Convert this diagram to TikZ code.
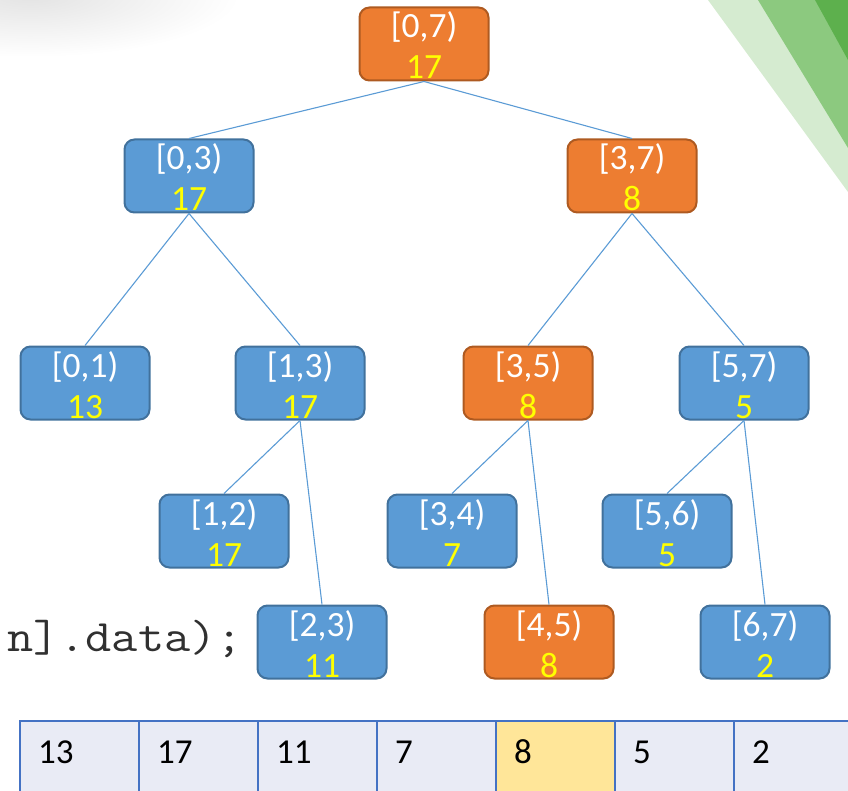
\documentclass[tikz,border=0pt]{standalone}
\usepackage{fontspec}
\setmainfont{Carlito}
\usetikzlibrary{calc}
\definecolor{nblue}{HTML}{5B9BD5}
\definecolor{nblueD}{HTML}{41719C}
\definecolor{norange}{HTML}{ED7D31}
\definecolor{norangeD}{HTML}{AE5A21}
\definecolor{nyellow}{HTML}{FFFF00}
\definecolor{cellfill}{HTML}{E9EBF5}
\definecolor{cellline}{HTML}{4472C4}
\definecolor{cellhi}{HTML}{FFE699}
\definecolor{gLight}{HTML}{D5EBD0}
\definecolor{gMid}{HTML}{8CC97F}
\definecolor{gDark}{HTML}{5DB04D}
\definecolor{codetext}{HTML}{303030}
\tikzset{
  treebox/.style={rounded corners=10pt, line width=2pt, minimum width=129pt, minimum height=73pt, inner sep=0pt},
  bluebox/.style={treebox, fill=nblue, draw=nblueD},
  orangebox/.style={treebox, fill=norange, draw=norangeD},
  lbltext/.style={text=white, font=\fontsize{35.5}{40}\selectfont, inner sep=0pt, anchor=base},
  numtext/.style={text=nyellow, font=\fontsize{35.5}{40}\selectfont, inner sep=0pt, anchor=base},
  edge/.style={draw=nblue, line width=1.1pt},
  arrcell/.style={draw=cellline, line width=2pt, fill=cellfill, minimum width=119pt, minimum height=90pt, inner sep=0pt, anchor=north west},
  arrtext/.style={text=black, font=\fontsize{35}{40}\selectfont, inner sep=0pt, anchor=base west}
}
\newcommand{\tnode}[6]{%
  \node[#4] (#1) at (#2,#3+37) {};
  \node[lbltext] (#1-l) at (#2,#3+31) {#5};
  \node[numtext] (#1-n) at (#2,#3+72) {#6};
}
\begin{document}
\begin{tikzpicture}[x=1pt,y=-1pt]
\useasboundingbox (0,0) rectangle (848,791);
\begin{scope}
  \clip (0,0) rectangle (848,791);
  % shadow top-left
  \shade[inner color=black!11, outer color=white] (30,-5) ellipse [x radius=210pt, y radius=62pt];
  % green stripes
  \fill[gLight] (708,0) -- (848,192) -- (848,0) -- cycle;
  \fill[gMid] (758,0) -- (848,148) -- (848,0) -- cycle;
  \fill[gDark] (815,0) -- (848,60) -- (848,0) -- cycle;
  % code text
  \node[anchor=base east, inner sep=0pt, text=codetext, font=\ttfamily\fontsize{45}{50}\selectfont] (code) at (243,651) {\scalebox{1.13}[1]{n].data);}};
  % array
  \node[arrcell] (c1) at (19,720) {};
  \node[arrcell] (c2) at (138,720) {};
  \node[arrcell] (c3) at (257,720) {};
  \node[arrcell] (c4) at (376,720) {};
  \node[arrcell, fill=cellhi] (c5) at (495,720) {};
  \node[arrcell] (c6) at (614,720) {};
  \node[arrcell] (c7) at (733,720) {};
  \node[arrtext] (t1) at (38,763) {13};
  \node[arrtext] (t2) at (157,763) {17};
  \node[arrtext] (t3) at (276,763) {11};
  \node[arrtext] (t4) at (395,763) {7};
  \node[arrtext] (t5) at (514,763) {8};
  \node[arrtext] (t6) at (633,763) {5};
  \node[arrtext] (t7) at (752,763) {2};
\end{scope}
% tree
\tnode{a}{424}{7}{orangebox}{[0,7)}{17}
\tnode{b}{189}{139}{bluebox}{[0,3)}{17}
\tnode{c}{632}{139}{orangebox}{[3,7)}{8}
\tnode{d}{85}{346}{bluebox}{[0,1)}{13}
\tnode{e}{300}{346}{bluebox}{[1,3)}{17}
\tnode{f}{528}{346}{orangebox}{[3,5)}{8}
\tnode{g}{744}{346}{bluebox}{[5,7)}{5}
\tnode{h}{224}{494}{bluebox}{[1,2)}{17}
\tnode{i}{452}{494}{bluebox}{[3,4)}{7}
\tnode{j}{667}{494}{bluebox}{[5,6)}{5}
\tnode{k}{322}{605}{bluebox}{[2,3)}{11}
\tnode{l}{549}{605}{orangebox}{[4,5)}{8}
\tnode{m}{765}{605}{bluebox}{[6,7)}{2}
% edges
\draw[edge] (a.south) -- (b.north);
\draw[edge] (a.south) -- (c.north);
\draw[edge] (b.south) -- (d.north);
\draw[edge] (b.south) -- (e.north);
\draw[edge] (c.south) -- (f.north);
\draw[edge] (c.south) -- (g.north);
\draw[edge] (e.south) -- (h.north);
\draw[edge] (e.south) -- (k.north);
\draw[edge] (f.south) -- (i.north);
\draw[edge] (f.south) -- (l.north);
\draw[edge] (g.south) -- (j.north);
\draw[edge] (g.south) -- (m.north);
\end{tikzpicture}
\end{document}
